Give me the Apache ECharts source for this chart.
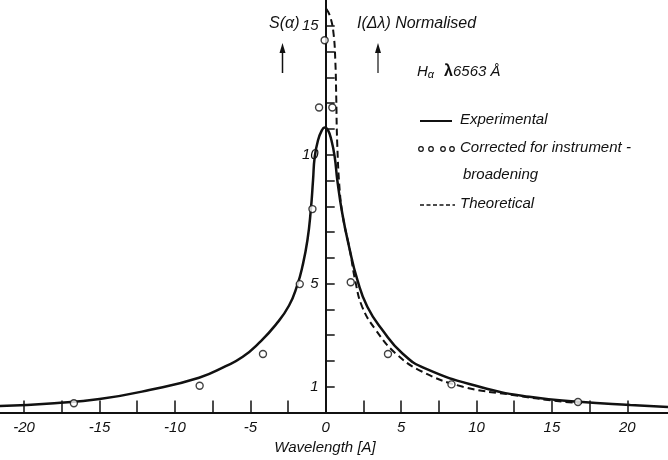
<!DOCTYPE html>
<html>
<head>
<meta charset="utf-8">
<title>H-alpha line profile</title>
<script src="https://cdn.jsdelivr.net/npm/echarts@6/dist/echarts.min.js"></script>
<style>
  html, body { margin: 0; padding: 0; background: #fff; }
  #chart { width: 668px; height: 460px; }
</style>
</head>
<body>
<div id="chart"></div>
<script>
// experimental profile (solid)
const expX = [-21.6, -18, -15, -11.7, -8.4, -6.63, -5.5, -4.42, -3.32, -2.43, -1.88, -1.55, -1.21, -0.99, -0.84, -0.73, -0.51, -0.25, -0.07, 0.15, 0.38, 0.6, 0.77, 1.1, 1.55, 2.1, 2.76, 3.76, 5.09, 6.63, 10.2, 13.5, 16.8, 20.2, 22.7];
const expY = [0.25, 0.36, 0.52, 0.87, 1.35, 1.8, 2.16, 2.7, 3.4, 4.15, 4.95, 5.65, 6.69, 7.84, 9.01, 9.91, 10.56, 10.95, 11.05, 10.95, 10.56, 9.9, 9.01, 7.72, 6.43, 5.14, 4.1, 3.2, 2.29, 1.7, 1.0, 0.61, 0.42, 0.29, 0.21];
// theoretical profile (dashed), right half only
const theoX = [0.05, 0.3, 0.52, 0.64, 0.7, 0.76, 0.93, 1.15, 1.6, 1.95, 2.42, 3.32, 4.64, 6.41, 9.1, 12.4, 15.7, 17.0];
const theoY = [15.65, 15.35, 14.7, 13.6, 12.2, 10.5, 8.6, 7.55, 6.3, 5.14, 4.1, 3.2, 2.29, 1.58, 1.0, 0.68, 0.42, 0.37];
// corrected for instrument broadening (circles)
const corrX = [-16.7, -8.36, -4.16, -1.72, -0.88, -0.44, -0.07, 0.44, 1.66, 4.13, 8.34, 16.73];
const corrY = [0.36, 1.04, 2.27, 4.98, 7.89, 11.83, 14.44, 11.83, 5.05, 2.27, 1.09, 0.41];
// axis ticks and labels
const xLabels = [-20, -15, -10, -5, 0, 5, 10, 15, 20];
const xTicks = [-20, -17.5, -15, -12.5, -10, -7.5, -5, -2.5, 2.5, 5, 7.5, 10, 12.5, 15, 17.5, 20];
const yLabels = [1, 5, 10, 15];
const yTicks = [1, 2, 3, 4, 5, 6, 7, 8, 9, 10, 11, 12, 13, 14, 15];

const xMin = -21.6, xMax = 22.7;
const font = "'Liberation Sans', 'DejaVu Sans', sans-serif";
const ink = '#111';
const W = 668;

function pairs(xs, ys) {
  return xs.map((x, i) => [x, ys[i]]);
}

const chart = echarts.init(document.getElementById('chart'), null, { renderer: 'canvas' });

// the y axis stands at wavelength 0, inside the plot
const yAxisShift = (0 - xMin) / (xMax - xMin) * W;

const option = {
  backgroundColor: '#fff',
  animation: false,
  grid: {
    left: 0, right: 0, top: 0, bottom: 47.5,
    containLabel: false,
    outerBoundsMode: 'none'
  },
  xAxis: {
    type: 'value',
    min: xMin,
    max: xMax,
    name: 'Wavelength [A]',
    nameLocation: 'middle',
    nameGap: 28,
    nameTextStyle: {
      fontFamily: font, fontStyle: 'italic', fontSize: 15, color: ink,
      padding: [0, 18, 0, 0]
    },
    axisLine: { lineStyle: { color: ink, width: 2 } },
    axisTick: {
      inside: true, length: 12, customValues: xTicks,
      lineStyle: { color: ink, width: 1.5 }
    },
    axisLabel: {
      customValues: xLabels,
      fontFamily: font, fontStyle: 'italic', fontSize: 15, color: ink, margin: 8
    },
    splitLine: { show: false }
  },
  yAxis: {
    type: 'value',
    min: 0,
    max: 16,
    position: 'left',
    offset: -yAxisShift,
    axisLine: { onZero: false, lineStyle: { color: ink, width: 2 } },
    axisTick: {
      inside: true, length: 9, customValues: yTicks,
      lineStyle: { color: ink, width: 1.5 }
    },
    axisLabel: {
      customValues: yLabels,
      fontFamily: font, fontStyle: 'italic', fontSize: 15, color: ink, margin: 7
    },
    splitLine: { show: false }
  },
  series: [
    {
      name: 'Experimental',
      type: 'line',
      data: pairs(expX, expY),
      smooth: 0.5,
      showSymbol: false,
      lineStyle: { color: ink, width: 2.5 },
      z: 3
    },
    {
      name: 'Theoretical',
      type: 'line',
      data: pairs(theoX, theoY),
      smooth: 0.45,
      showSymbol: false,
      lineStyle: { color: ink, width: 2, type: [7, 4] },
      z: 3
    },
    {
      name: 'Corrected for instrument broadening',
      type: 'scatter',
      data: pairs(corrX, corrY),
      symbol: 'circle',
      symbolSize: 7,
      itemStyle: { color: '#fff', borderColor: ink, borderWidth: 1.4 },
      z: 5
    }
  ],
  graphic: [
    // axis captions and arrows
    { type: 'text', left: 269, top: 16, style: { text: 'S(α)', font: 'italic 16px ' + font, fill: ink } },
    { type: 'text', left: 357, top: 16, style: { text: 'I(Δλ) Normalised', font: 'italic 16px ' + font, fill: ink } },
    { type: 'line', shape: { x1: 282.5, y1: 73, x2: 282.5, y2: 50 }, style: { stroke: ink, lineWidth: 1.5 } },
    { type: 'polygon', shape: { points: [[282.5, 43], [279.5, 53], [285.5, 53]] }, style: { fill: ink } },
    { type: 'line', shape: { x1: 378, y1: 73, x2: 378, y2: 50 }, style: { stroke: ink, lineWidth: 1.2 } },
    { type: 'polygon', shape: { points: [[378, 43], [375, 53], [381, 53]] }, style: { fill: ink } },
    // legend block
    {
      type: 'text', left: 417, top: 64,
      style: {
        text: '{h|H}{s|α}   {l|λ}{n|6563 Å}',
        rich: {
          h: { font: 'italic 15px ' + font, fill: ink },
          s: { font: 'italic 11px ' + font, fill: ink, padding: [6, 0, 0, 0] },
          l: { font: 'bold 16px ' + font, fill: ink },
          n: { font: 'italic 15px ' + font, fill: ink }
        }
      }
    },
    { type: 'line', shape: { x1: 420, y1: 121, x2: 452, y2: 121 }, style: { stroke: ink, lineWidth: 2 } },
    { type: 'text', left: 460, top: 112, style: { text: 'Experimental', font: 'italic 15px ' + font, fill: ink } },
    { type: 'circle', shape: { cx: 421, cy: 149, r: 2.3 }, style: { fill: '#fff', stroke: ink, lineWidth: 1.2 } },
    { type: 'circle', shape: { cx: 431, cy: 149, r: 2.3 }, style: { fill: '#fff', stroke: ink, lineWidth: 1.2 } },
    { type: 'circle', shape: { cx: 443, cy: 149, r: 2.3 }, style: { fill: '#fff', stroke: ink, lineWidth: 1.2 } },
    { type: 'circle', shape: { cx: 452, cy: 149, r: 2.3 }, style: { fill: '#fff', stroke: ink, lineWidth: 1.2 } },
    { type: 'text', left: 460, top: 140, style: { text: 'Corrected for instrument -', font: 'italic 15px ' + font, fill: ink } },
    { type: 'text', left: 463, top: 167, style: { text: 'broadening', font: 'italic 15px ' + font, fill: ink } },
    { type: 'line', shape: { x1: 420, y1: 205, x2: 455, y2: 205 }, style: { stroke: ink, lineWidth: 1.5, lineDash: [4, 2.5] } },
    { type: 'text', left: 460, top: 196, style: { text: 'Theoretical', font: 'italic 15px ' + font, fill: ink } }
  ]
};

chart.setOption(option);

window.addEventListener('resize', function () {
  chart.resize();
});
</script>
</body>
</html>
